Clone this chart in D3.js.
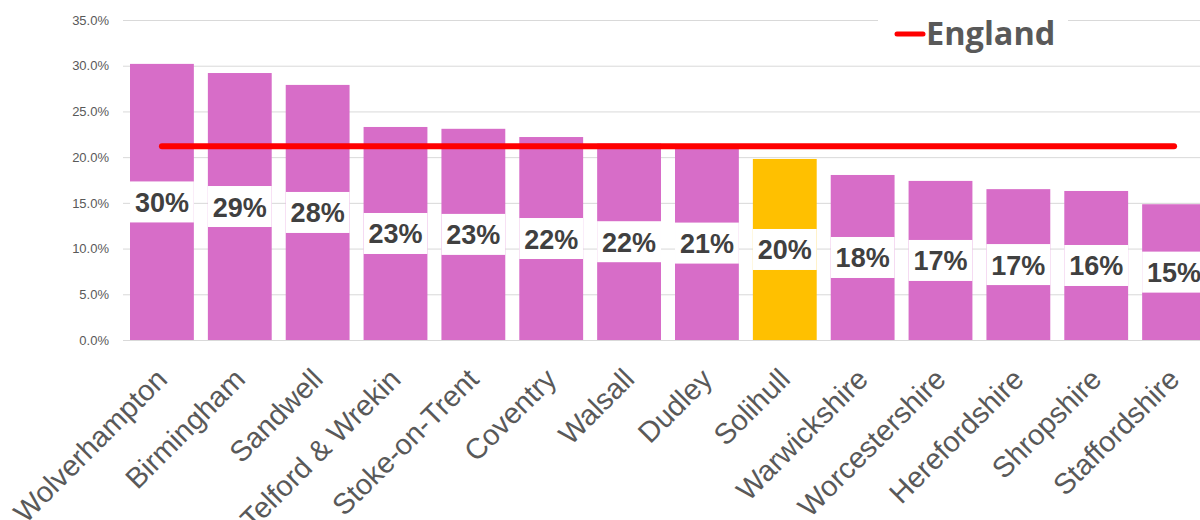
<!DOCTYPE html>
<html>
<head>
<meta charset="utf-8">
<script src="https://cdn.jsdelivr.net/npm/d3@7"></script>
<style>
    body { margin: 0; background: #fff; }
    svg { display: block; }
</style>
</head>
<body>
<svg id="canvas"></svg>
<script>
/** Main values */
let areas = ['Wolverhampton', 'Birmingham', 'Sandwell', 'Telford & Wrekin', 'Stoke-on-Trent', 'Coventry', 'Walsall',
    'Dudley', 'Solihull', 'Warwickshire', 'Worcestershire', 'Herefordshire', 'Shropshire', 'Staffordshire'];
let rates = [0.302, 0.292, 0.279, 0.233, 0.231, 0.222, 0.215, 0.212, 0.198, 0.1805, 0.174, 0.165, 0.163, 0.1485];
let englandRate = 0.212;
let highlight = 'Solihull';
let yTicks = [0, 0.05, 0.10, 0.15, 0.20, 0.25, 0.30, 0.35];

let width = 1200;
let height = 520;

let canvas = d3.select('#canvas')
    .attr('width', width)
    .attr('height', height);

let xScale = d3.scaleBand()
    .domain(areas)
    .range([123, 1213])
    .paddingInner(0.18)
    .paddingOuter(0.09);

let yScale = d3.scaleLinear()
    .domain([0, 0.35])
    .range([340, 20]);

/** Gridlines and y axis labels */
const drawAxes = () => {
    let yAxis = d3.axisLeft(yScale)
        .tickValues(yTicks)
        .tickFormat(d3.format('.1%'))
        .tickSize(-(width - 123))
        .tickPadding(14);

    let g = canvas.append('g')
        .attr('transform', 'translate(123, 0)')
        .call(yAxis);
    g.select('.domain').remove();
    g.selectAll('.tick line').attr('stroke', '#d9d9d9');
    g.selectAll('.tick text')
        .attr('fill', '#595959')
        .style('font-family', 'Liberation Sans, Arial, sans-serif')
        .style('font-size', '13px');

    canvas.append('g')
        .selectAll('text')
        .data(areas)
        .enter()
        .append('text')
        .attr('transform', (d) => `translate(${xScale(d) + xScale.bandwidth() / 2 + 7}, 381) rotate(-45)`)
        .attr('text-anchor', 'end')
        .attr('fill', '#595959')
        .style('font-family', 'Liberation Sans, Arial, sans-serif')
        .style('font-size', '29px')
        .text((d) => d);
};

/** Bars with white label boxes */
const drawBars = () => {
    let bars = canvas.append('g')
        .selectAll('g')
        .data(areas)
        .enter()
        .append('g');

    bars.append('rect')
        .attr('x', (d) => xScale(d))
        .attr('width', xScale.bandwidth())
        .attr('y', (d, i) => yScale(rates[i]))
        .attr('height', (d, i) => yScale(0) - yScale(rates[i]))
        .attr('fill', (d) => d === highlight ? '#ffc000' : '#d76dc8');

    bars.append('rect')
        .attr('x', (d) => xScale(d))
        .attr('width', xScale.bandwidth())
        .attr('y', (d, i) => yScale(rates[i] / 2) - 20.5)
        .attr('height', 41)
        .attr('fill', '#fff');

    bars.append('text')
        .attr('x', (d) => xScale(d) + xScale.bandwidth() / 2)
        .attr('y', (d, i) => yScale(rates[i] / 2) + 10)
        .attr('text-anchor', 'middle')
        .attr('fill', '#404040')
        .style('font-family', 'Liberation Sans, Arial, sans-serif')
        .style('font-weight', 'bold')
        .style('font-size', '27px')
        .text((d, i) => d3.format('.0%')(rates[i]));
};

/** England line and legend */
const drawEngland = () => {
    let first = areas[0];
    let last = areas[areas.length - 1];

    canvas.append('line')
        .attr('x1', xScale(first) + xScale.bandwidth() / 2)
        .attr('x2', xScale(last) + xScale.bandwidth() / 2)
        .attr('y1', yScale(englandRate))
        .attr('y2', yScale(englandRate))
        .attr('stroke', '#ff0000')
        .attr('stroke-width', 6)
        .attr('stroke-linecap', 'round');

    let legend = canvas.append('g');
    legend.append('rect')
        .attr('x', 878)
        .attr('y', 4)
        .attr('width', 190)
        .attr('height', 46)
        .attr('fill', '#fff');
    legend.append('line')
        .attr('x1', 897)
        .attr('x2', 923)
        .attr('y1', 34)
        .attr('y2', 34)
        .attr('stroke', '#ff0000')
        .attr('stroke-width', 5)
        .attr('stroke-linecap', 'round');
    legend.append('text')
        .attr('x', 926)
        .attr('y', 45)
        .attr('fill', '#595959')
        .style('font-family', 'Open Sans, sans-serif')
        .style('font-weight', 'bold')
        .style('font-size', '32.5px')
        .text('England');
};

drawAxes();
drawBars();
drawEngland();
</script>
</body>
</html>
